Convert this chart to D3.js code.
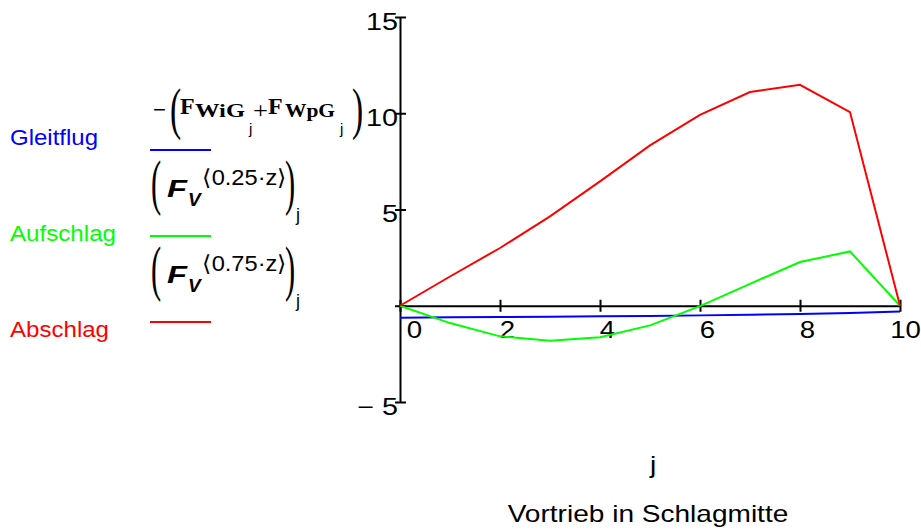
<!DOCTYPE html>
<html>
<head>
<meta charset="utf-8">
<script src="https://cdn.jsdelivr.net/npm/d3@7"></script>
<style>
  body { margin: 0; background: #fff; }
  svg { display: block; }
  text { font-family: "Liberation Sans", Arial, sans-serif; }
</style>
</head>
<body>
<div id="chart"></div>
<script>
// values
var jValues   = [0, 1, 2, 3, 4, 5, 6, 7, 8, 9, 10];
var gleitflug = [-0.62, -0.6, -0.59, -0.57, -0.55, -0.53, -0.5, -0.47, -0.43, -0.38, -0.3];
var aufschlag = [0, -0.9, -1.59, -1.82, -1.64, -1.02, -0.02, 1.14, 2.27, 2.82, 0];
var abschlag  = [0, 1.52, 3.0, 4.64, 6.46, 8.33, 9.92, 11.1, 11.48, 10.06, 0];

var xTicks = [0, 2, 4, 6, 8, 10];
var yTicks = [-5, 0, 5, 10, 15];
var seriesNames  = ["Gleitflug", "Aufschlag", "Abschlag"];
var seriesColors = ["#0000ff", "#00ff00", "#ff0000"];
var xTitle = "j";
var xSubtitle = "Vortrieb in Schlagmitte";

var width = 921, height = 532;

var svg = d3.select("#chart").append("svg")
  .attr("width", width)
  .attr("height", height);

var x = d3.scaleLinear().domain([0, 10]).range([400, 900]);
var y = d3.scaleLinear().domain([-5, 15]).range([402, 17]);

// x axis
var xAxis = svg.append("g")
  .attr("transform", "translate(0," + y(0) + ")")
  .call(d3.axisBottom(x).tickValues(xTicks).tickSizeOuter(0));
xAxis.attr("font-size", null).attr("font-family", null);
xAxis.select(".domain").attr("stroke", "#000").attr("stroke-width", 2);
xAxis.selectAll(".tick line").attr("y1", -6).attr("y2", 6).attr("stroke-width", 2);
xAxis.selectAll(".tick text")
  .attr("y", 0).attr("dy", null)
  .attr("text-anchor", "middle")
  .style("font-size", "23px")
  .attr("transform", function (d) {
    var off = d === 0 ? 14 : (d === 10 ? 5 : 7);
    return "translate(" + off + ",32) scale(1.2,1)";
  });

// y axis
var yAxis = svg.append("g")
  .attr("transform", "translate(" + x(0) + ",0)")
  .call(d3.axisLeft(y).tickValues(yTicks).tickSizeOuter(0)
    .tickFormat(function (d) { return d === 0 ? "" : (d < 0 ? "\u2212 " + Math.abs(d) : d); }));
yAxis.attr("font-size", null).attr("font-family", null);
yAxis.select(".domain").attr("stroke", "#000").attr("stroke-width", 2);
yAxis.selectAll(".tick line").attr("x1", -5).attr("x2", 6).attr("stroke-width", 2);
yAxis.selectAll(".tick text")
  .attr("x", 0).attr("dy", null)
  .attr("text-anchor", "end")
  .style("font-size", "23px")
  .attr("transform", "translate(-2,12) scale(1.25,1)");

// traces
var seriesData = [gleitflug, aufschlag, abschlag];
var line = d3.line()
  .x(function (d, i) { return x(jValues[i]); })
  .y(function (d) { return y(d); });

svg.selectAll(".trace")
  .data(seriesData)
  .enter().append("path")
  .attr("class", "trace")
  .attr("fill", "none")
  .attr("stroke", function (d, i) { return seriesColors[i]; })
  .attr("stroke-width", 2)
  .attr("d", line);

// axis titles
svg.append("text")
  .attr("transform", "translate(653,473) scale(1.22,1)")
  .attr("text-anchor", "middle")
  .style("font-size", "23px")
  .text(xTitle);
svg.append("text")
  .attr("transform", "translate(648,522) scale(1.22,1)")
  .attr("text-anchor", "middle")
  .style("font-size", "23px")
  .text(xSubtitle);

// legend
var legendW = [88, 106, 99];
seriesNames.forEach(function (name, i) {
  svg.append("text")
    .attr("x", 10).attr("y", 145 + i * 96)
    .attr("fill", seriesColors[i])
    .style("font-size", "22px")
    .attr("textLength", legendW[i])
    .attr("lengthAdjust", "spacingAndGlyphs")
    .text(name);
  svg.append("line")
    .attr("x1", 150).attr("x2", 211)
    .attr("y1", 150 + i * 86).attr("y2", 150 + i * 86)
    .attr("stroke", seriesColors[i])
    .attr("stroke-width", 2);
});

// legend formulas
var serif = '"Liberation Serif", "Times New Roman", serif';
function put(txt, px, py, size, opt) {
  opt = opt || {};
  var t = svg.append("text")
    .style("font-size", size + "px")
    .style("font-family", opt.serif ? serif : null)
    .style("font-weight", opt.bold ? "bold" : null)
    .style("font-style", opt.italic ? "italic" : null)
    .text(txt);
  if (opt.sx) {
    t.attr("transform", "translate(" + px + "," + py + ") scale(" + opt.sx + ",1)");
  } else {
    t.attr("x", px).attr("y", py);
  }
  if (opt.len) t.attr("textLength", opt.len).attr("lengthAdjust", "spacingAndGlyphs");
  return t;
}

// -(F_WiG_j + F_WpG_j)
put("\u2212", 153, 117, 22);
put("(", 170, 128, 56, { serif: true, sx: 0.6 });
put("F", 180, 114, 24, { serif: true, bold: true });
put("WiG", 195, 117, 18, { serif: true, bold: true, len: 50 });
put("j", 249, 134, 15);
put("+", 253, 118, 24, { serif: true, len: 15 });
put("F", 268, 114, 24, { serif: true, bold: true });
put("WpG", 285, 117, 18, { serif: true, bold: true, len: 50 });
put("j", 340, 134, 15);
put(")", 352, 128, 56, { serif: true, sx: 0.6 });

// (F_V^<k*z>)_j
["0.25", "0.75"].forEach(function (k, i) {
  var dy = i * 86;
  put("(", 151, 203 + dy, 61, { serif: true, sx: 0.5 });
  put("F", 167, 197 + dy, 24, { bold: true, italic: true, len: 20 });
  put("V", 188, 206 + dy, 19, { bold: true, italic: true });
  put("\u27E8" + k + "\u00B7z\u27E9", 202, 185 + dy, 22, { len: 85 });
  put(")", 285, 203 + dy, 61, { serif: true, sx: 0.5 });
  put("j", 296, 221 + dy, 18);
});
</script>
</body>
</html>
